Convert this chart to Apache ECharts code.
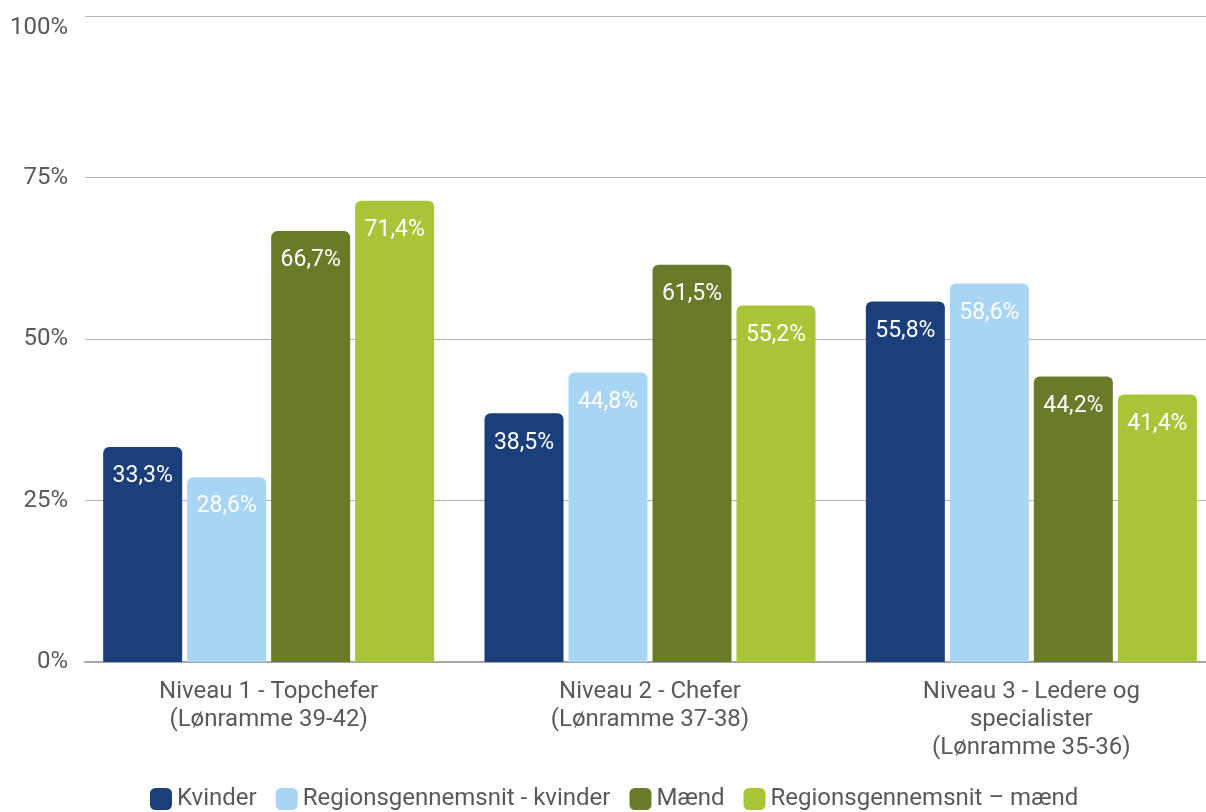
<!DOCTYPE html>
<html>
<head>
<meta charset="utf-8">
<script src="https://cdn.jsdelivr.net/npm/echarts@6/dist/echarts.min.js"></script>
<style>html,body{margin:0;padding:0;background:#fff}#c{width:1206px;height:812px}</style>
</head>
<body>
<div id="c"></div>
<script>
const categories = [
  "Niveau 1 - Topchefer\n(Lønramme 39-42)",
  "Niveau 2 - Chefer\n(Lønramme 37-38)",
  "Niveau 3 - Ledere og\nspecialister\n(Lønramme 35-36)"
];
const seriesNames = ["Kvinder", "Regionsgennemsnit - kvinder", "Mænd", "Regionsgennemsnit – mænd"];
const kvinder = [33.3, 38.5, 55.8];
const regionKvinder = [28.6, 44.8, 58.6];
const maend = [66.7, 61.5, 44.2];
const regionMaend = [71.4, 55.2, 41.4];
const colors = ["#1b3f7a", "#a9d5f4", "#697a29", "#a7c537"];
const yTicks = [0, 25, 50, 75, 100];

const dataSets = [kvinder, regionKvinder, maend, regionMaend];
const font = "Roboto";
const chart = echarts.init(document.getElementById('c'));
chart.setOption({
  animation: false,
  textStyle: { fontFamily: font },
  grid: [
    { left: 85, right: 0, top: 16, bottom: 150, containLabel: false, outerBoundsMode: 'none' },
    { left: 78, width: 1144, top: 16, bottom: 150, containLabel: false, outerBoundsMode: 'none' }
  ],
  legend: {
    bottom: 1, left: 150, padding: 0,
    itemWidth: 22, itemHeight: 22, itemGap: 19,
    icon: 'roundRect',
    textStyle: { fontSize: 24, color: '#595959', fontFamily: font },
    data: seriesNames
  },
  xAxis: [
    {
      type: 'category', gridIndex: 0, data: categories,
      axisLine: { lineStyle: { color: '#a6a6a6', width: 2 } },
      axisTick: { show: false }, axisLabel: { show: false }
    },
    {
      type: 'category', gridIndex: 1, data: categories,
      axisLine: { show: false },
      axisTick: { show: false },
      axisLabel: { color: '#595959', fontSize: 24, lineHeight: 28, margin: 16, interval: 0 }
    }
  ],
  yAxis: [
    {
      type: 'value', gridIndex: 0, min: yTicks[0], max: yTicks[yTicks.length - 1], interval: 25,
      axisLine: { show: false }, axisTick: { show: false },
      splitLine: { lineStyle: { color: '#b3b3b3', width: 1 } },
      axisLabel: { color: '#595959', fontSize: 24, margin: 17, formatter: '{value}%', verticalAlignMaxLabel: 'top' }
    },
    {
      type: 'value', gridIndex: 1, min: yTicks[0], max: yTicks[yTicks.length - 1], interval: 25,
      show: false, splitLine: { show: false }
    }
  ],
  series: dataSets.map((d, i) => ({
    name: seriesNames[i],
    type: 'bar',
    xAxisIndex: 1, yAxisIndex: 1,
    data: d,
    barGap: '6.3%',
    barCategoryGap: '13.2%',
    itemStyle: { color: colors[i], borderRadius: [6, 6, 0, 0] },
    label: {
      show: true, position: 'insideTop', distance: 18,
      color: '#ffffff', fontSize: 23, fontFamily: font,
      formatter: p => p.value.toFixed(1).replace('.', ',') + '%'
    }
  }))
});
</script>
</body>
</html>
